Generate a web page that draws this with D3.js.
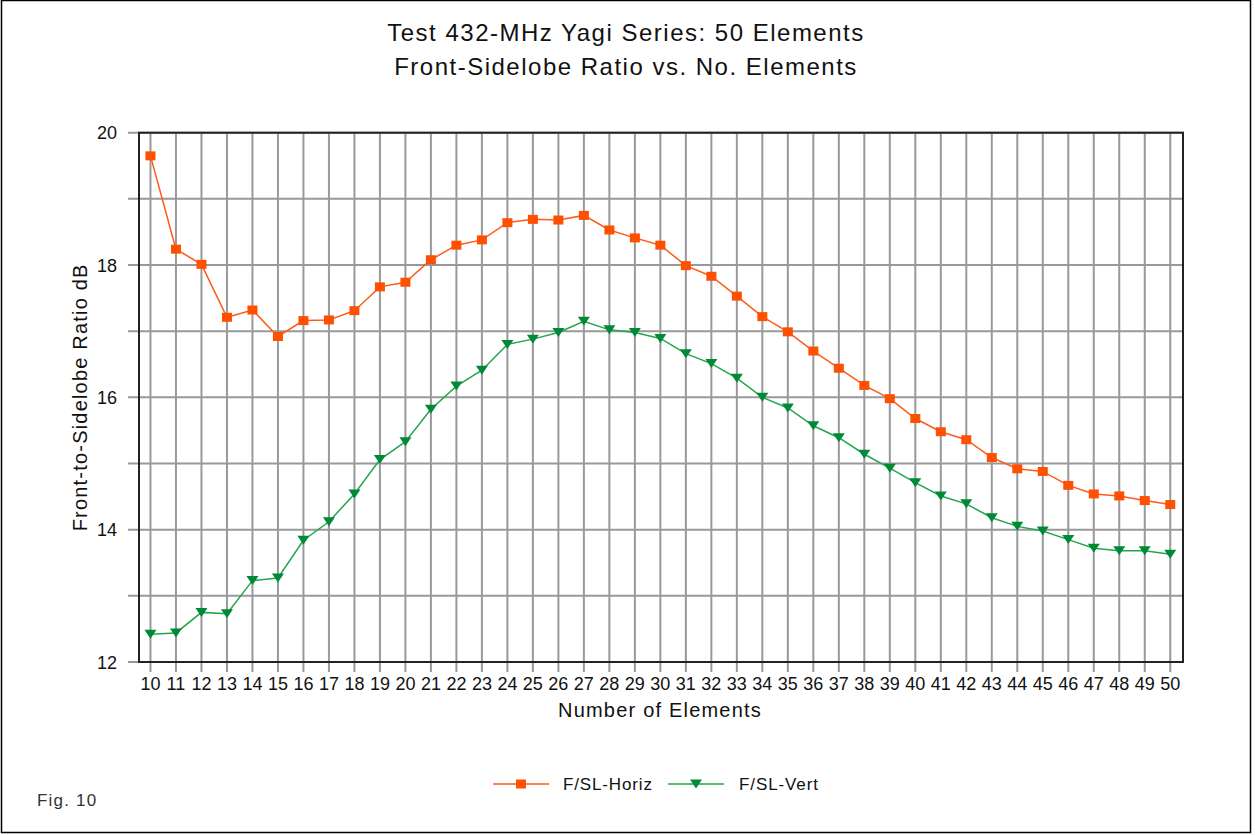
<!DOCTYPE html>
<html>
<head>
<meta charset="utf-8">
<script src="https://cdn.jsdelivr.net/npm/d3@7"></script>
<style>
  body { margin: 0; background: #fff; }
  text { font-family: "Liberation Sans", Arial, sans-serif; fill: #111; }
</style>
</head>
<body>
<svg id="chart" width="1255" height="835"></svg>
<script>
const elements = d3.range(10, 51);
const horizValues = [19.65, 18.24, 18.01, 17.21, 17.32, 16.92, 17.16, 17.17, 17.31, 17.67,
  17.74, 18.08, 18.30, 18.38, 18.64, 18.69, 18.68, 18.75, 18.53, 18.41,
  18.30, 17.99, 17.83, 17.53, 17.22, 16.99, 16.70, 16.44, 16.18, 15.98,
  15.68, 15.48, 15.36, 15.09, 14.92, 14.88, 14.67, 14.54, 14.51, 14.44, 14.38];
const vertValues = [12.42, 12.44, 12.75, 12.73, 13.23, 13.27, 13.84, 14.12, 14.54, 15.06,
  15.33, 15.82, 16.17, 16.41, 16.80, 16.88, 16.98, 17.15, 17.02, 16.98,
  16.89, 16.66, 16.51, 16.29, 16.00, 15.84, 15.57, 15.39, 15.14, 14.93,
  14.71, 14.51, 14.39, 14.18, 14.05, 13.98, 13.85, 13.72, 13.68, 13.68, 13.63];
const yTicks = [12, 13, 14, 15, 16, 17, 18, 19, 20];
const yLabels = [12, 14, 16, 18, 20];

const plotLeft = 139, plotRight = 1183, plotTop = 132.7, plotBottom = 662;

const svg = d3.select("#chart");

// outer border
svg.append("rect")
  .attr("x", 1.5).attr("y", 0.5)
  .attr("width", 1249).attr("height", 832)
  .attr("fill", "none").attr("stroke", "#000").attr("stroke-width", 1.5);

const x = d3.scaleLinear().domain([9.55, 50.5]).range([plotLeft, plotRight]);
const y = d3.scaleLinear().domain([12, 20]).range([plotBottom, plotTop]);

// grid
const grid = svg.append("g").attr("stroke", "#999").attr("stroke-width", 2);
grid.selectAll("line.v").data(elements).enter().append("line")
  .attr("class", "v")
  .attr("x1", d => x(d)).attr("x2", d => x(d))
  .attr("y1", plotTop).attr("y2", plotBottom + 10);
grid.selectAll("line.h").data(yTicks).enter().append("line")
  .attr("class", "h")
  .attr("x1", plotLeft - 11).attr("x2", plotRight)
  .attr("y1", d => y(d)).attr("y2", d => y(d));

// frame
svg.append("rect")
  .attr("x", plotLeft).attr("y", plotTop)
  .attr("width", plotRight - plotLeft).attr("height", plotBottom - plotTop)
  .attr("fill", "none").attr("stroke", "#222").attr("stroke-width", 2);

// tick labels
svg.append("g").selectAll("text").data(elements).enter().append("text")
  .attr("x", d => x(d)).attr("y", 690)
  .attr("text-anchor", "middle").attr("font-size", 18)
  .text(d => d);
svg.append("g").selectAll("text").data(yLabels).enter().append("text")
  .attr("x", 117).attr("y", d => y(d) + 6.5)
  .attr("text-anchor", "end").attr("font-size", 18)
  .text(d => d);

// axis titles
svg.append("text")
  .attr("x", 660).attr("y", 717)
  .attr("text-anchor", "middle").attr("font-size", 20)
  .attr("letter-spacing", 1.2)
  .text("Number of Elements");
svg.append("text")
  .attr("transform", "translate(87," + ((plotTop + plotBottom) / 2) + ") rotate(-90)")
  .attr("text-anchor", "middle").attr("font-size", 20)
  .attr("letter-spacing", 1.2)
  .text("Front-to-Sidelobe Ratio dB");

// title
svg.append("text")
  .attr("x", 626).attr("y", 41)
  .attr("text-anchor", "middle").attr("font-size", 24)
  .attr("letter-spacing", 1.5)
  .text("Test 432-MHz Yagi Series: 50 Elements");
svg.append("text")
  .attr("x", 626).attr("y", 75)
  .attr("text-anchor", "middle").attr("font-size", 24)
  .attr("letter-spacing", 1.5)
  .text("Front-Sidelobe Ratio vs. No. Elements");

const line = d3.line().x((d, i) => x(elements[i])).y(d => y(d));

const orange = "#ff5a1a", orangeMark = "#ff5000";
const green = "#22a64e", greenMark = "#008a38";

svg.append("path").datum(horizValues)
  .attr("d", line).attr("fill", "none")
  .attr("stroke", orange).attr("stroke-width", 1.5);
svg.append("path").datum(vertValues)
  .attr("d", line).attr("fill", "none")
  .attr("stroke", green).attr("stroke-width", 1.5);

const tri = "M-6,-4.5L6,-4.5L0,4.5Z";

svg.append("g").selectAll("rect").data(horizValues).enter().append("rect")
  .attr("x", (d, i) => x(elements[i]) - 5).attr("y", d => y(d) - 4.5)
  .attr("width", 10).attr("height", 9)
  .attr("fill", orangeMark);
svg.append("g").selectAll("path").data(vertValues).enter().append("path")
  .attr("d", tri)
  .attr("transform", (d, i) => "translate(" + x(elements[i]) + "," + y(d) + ")")
  .attr("fill", greenMark);

// legend
const legend = svg.append("g");
legend.append("line").attr("x1", 493).attr("x2", 549).attr("y1", 784).attr("y2", 784)
  .attr("stroke", orange).attr("stroke-width", 1.5);
legend.append("rect").attr("x", 516).attr("y", 779.5).attr("width", 10).attr("height", 9)
  .attr("fill", orangeMark);
legend.append("text").attr("x", 563).attr("y", 790).attr("font-size", 17)
  .attr("letter-spacing", 0.85).text("F/SL-Horiz");
legend.append("line").attr("x1", 668).attr("x2", 724).attr("y1", 784).attr("y2", 784)
  .attr("stroke", green).attr("stroke-width", 1.5);
legend.append("path").attr("d", tri).attr("transform", "translate(696,784)")
  .attr("fill", greenMark);
legend.append("text").attr("x", 739).attr("y", 790).attr("font-size", 17)
  .attr("letter-spacing", 0.9).text("F/SL-Vert");

svg.append("text")
  .attr("x", 37).attr("y", 806).attr("font-size", 17).attr("letter-spacing", 1.2)
  .style("fill", "#333")
  .text("Fig. 10");
</script>
</body>
</html>
